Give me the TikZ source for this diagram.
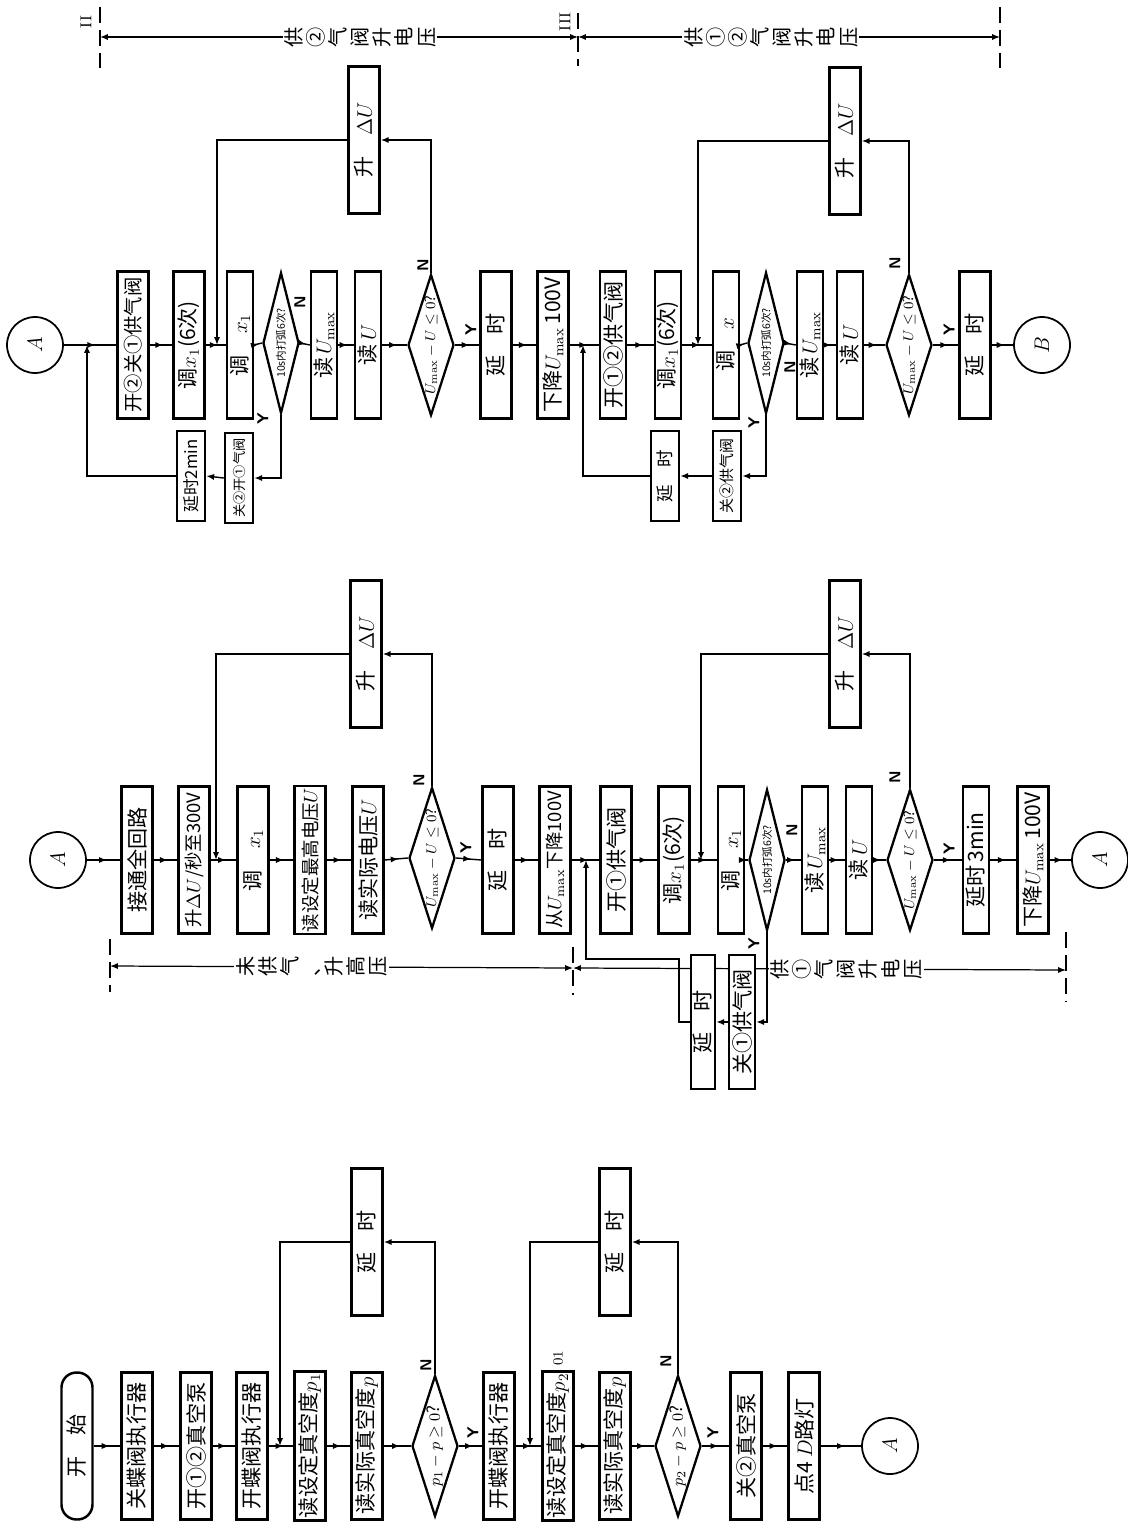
\documentclass[tikz,border=0pt]{standalone}
\usepackage{fontspec}
\newfontfamily\cjk{Noto Sans CJK SC}
\usetikzlibrary{shapes.geometric,arrows.meta,decorations.markings}

\begin{document}
\begin{tikzpicture}[x=0.02cm, y=-0.02cm, >={Latex[length=4.5pt,width=3.5pt]},
    box/.style={draw, fill=white, line width=1.4pt, rotate=90, minimum width=2.94cm,
        minimum height=0.62cm, inner sep=1pt, font=\cjk\fontsize{12}{13}\selectfont},
    slim/.style={minimum height=0.52cm},
    smallbox/.style={box, minimum width=1.8cm, minimum height=0.56cm},
    midbox/.style={box, minimum width=2.68cm},
    term/.style={box, rounded corners=0.3cm},
    test/.style={draw, fill=white, diamond, aspect=3, line width=1.3pt, rotate=90,
        inner sep=0pt, minimum width=2.82cm, minimum height=0.92cm,
        font=\cjk\fontsize{8}{9}\selectfont},
    narrow/.style={minimum height=0.72cm, font=\cjk\fontsize{6}{7}\selectfont},
    conn/.style={draw, circle, line width=1pt, minimum size=1.12cm, inner sep=0pt,
        rotate=90, font=\fontsize{12}{13}\selectfont},
    flow/.style={line width=0.8pt, postaction={decorate}, decoration={markings,
        mark=at position 0.6 with {\arrow{>}}}},
    back/.style={line width=0.8pt, ->},
    yesno/.style={rotate=90, inner sep=1pt, font=\sffamily\bfseries\fontsize{9}{9}\selectfont},
    stageline/.style={line width=0.7pt, <->},
    stagemark/.style={line width=0.7pt, dash pattern=on 9pt off 4pt},
    stagetext/.style={rotate=90, fill=white, align=center, inner sep=1pt,
        font=\cjk\fontsize{11.5}{12.6}\selectfont}]

    \useasboundingbox (0,0) rectangle (1128,1524);

    % stage brackets
    \coordinate (q1) at (100,37);
    \coordinate (q2) at (578,37);
    \coordinate (q3) at (1000,37);
    \coordinate (q4) at (110,966);
    \coordinate (q5) at (573,968);
    \coordinate (q6) at (1066,970);
    \draw[stagemark] (100,7) -- (100,72);
    \draw[stagemark] (578,13) -- (578,66);
    \draw[stagemark] (1000,7) -- (1000,68);
    \draw[stagemark] (110,939) -- (110,992);
    \draw[stagemark] (573,947) -- (573,995);
    \draw[stagemark] (1066,932) -- (1066,1002);
    \node[rotate=90, font=\fontsize{9}{9}\selectfont] (r2) at (86,22) {II};
    \node[rotate=90, font=\fontsize{9}{9}\selectfont] (r3) at (565,22) {III};
    \draw[stageline] (q1) -- (q2) node[stagetext, pos=0.544] (g1) {供\\②\\气\\阀\\升\\电\\压};
    \draw[stageline] (q2) -- (q3) node[stagetext, pos=0.457] (g2) {供\\①\\②\\气\\阀\\升\\电\\压};
    \draw[stageline] (q4) -- (q5) node[stagetext, pos=0.436] (g3) {未\\供\\气\\、\\升\\高\\压};
    \draw[stageline] (q5) -- (q6) node[stagetext, pos=0.554] (g4) {供\\①\\气\\阀\\升\\电\\压};

    % first column: pumping down
    \node[term] (start) at (77,1446) {开\quad 始};
    \node[box] (b1) at (137,1446) {关蝶阀执行器};
    \node[box] (b2) at (196,1446) {开①②真空泵};
    \node[box] (b3) at (252,1446) {开蝶阀执行器};
    \coordinate (j1) at (280,1446);
    \node[box] (b4) at (310,1446) {读设定真空度$p_1$};
    \node[box] (b5) at (367,1446) {读实际真空度$p$};
    \node[test, font=\cjk\fontsize{9.5}{10}\selectfont] (d1) at (435,1446) {$p_1-p\geq0$?};
    \node[box] (t1) at (367,1242) {延\quad 时};
    \node[box] (b6) at (499,1446) {开蝶阀执行器};
    \coordinate (j2) at (530,1446);
    \node[box] (b7) at (558,1446) {读设定真空度$p_2$};
    \node[rotate=90, font=\fontsize{8}{8}\selectfont] (note) at (558,1358) {01};
    \node[box] (b8) at (615,1446) {读实际真空度$p$};
    \node[test, font=\cjk\fontsize{9.5}{10}\selectfont] (d2) at (678,1446) {$p_2-p\geq0$?};
    \node[box] (t2) at (615,1242) {延\quad 时};
    \node[box] (b9) at (746,1446) {关②真空泵};
    \node[box] (b10) at (804,1446) {点4\,$D$路灯};
    \node[conn] (a1) at (890,1446) {$A$};

    \foreach \u/\v in {start/b1, b1/b2, b2/b3, b3/b4, b4/b5, b5/d1, d1/b6, b6/b7, b7/b8,
        b8/d2, d2/b9, b9/b10}
        \draw[flow] (\u.south) -- (\v.north);
    \draw[flow] (b10.south) -- (a1);
    \draw[back] (d1.east) |- (t1.south);
    \draw[back] (t1.north) -| (j1);
    \draw[back] (d2.east) |- (t2.south);
    \draw[back] (t2.north) -| (j2);
    \node[yesno] (dN1) at (426,1365) {N};
    \node[yesno] (dY1) at (473,1433) {Y};
    \node[yesno] (dN2) at (666,1361) {N};
    \node[yesno] (dY2) at (713,1433) {Y};

    % second column: high voltage without gas, then gas valve 1
    \node[conn] (a2) at (58,860) {$A$};
    \node[box] (m1) at (137,860) {接通全回路};
    \node[box, font=\cjk\fontsize{10.5}{12}\selectfont] (m2) at (194,860) {升$\Delta U$/秒至300V};
    \coordinate (j3) at (216,860);
    \node[box] (m3) at (253,860) {调\quad $x_1$};
    \node[box, font=\cjk\fontsize{10.5}{12}\selectfont] (m4) at (310,860) {读设定最高电压$U$};
    \node[box] (m5) at (368,860) {读实际电压$U$};
    \node[test] (md1) at (432,858) {$U_{\max}-U\leq0$?};
    \node[box] (u1) at (366,654) {升\quad $\Delta U$};
    \node[box] (m6) at (498,860) {延\quad 时};
    \node[box, font=\cjk\fontsize{10.5}{12}\selectfont] (m7) at (555,860) {从$U_{\max}$下降100V};
    \coordinate (j4) at (586,860);
    \node[box] (m8) at (616,860) {开①供气阀};
    \node[box] (m9) at (674,860) {调$x_1$(6次)};
    \coordinate (j5) at (701,860);
    \node[box, slim] (m10) at (731,860) {调\quad $x_1$};
    \node[test, narrow] (md2) at (767,860) {10s内打弧6次?};
    \node[box, slim] (m11) at (815,860) {读\,$U_{\max}$};
    \node[box, slim] (m12) at (859,860) {读\,$U$};
    \node[test] (md3) at (910,860) {$U_{\max}-U\leq0$?};
    \node[box] (u2) at (845,654) {升\quad $\Delta U$};
    \node[box, slim] (m13) at (976,860) {延时\,3min};
    \node[box] (m14) at (1033,860) {下降$U_{\max}$\,100V};
    \node[conn] (a3) at (1100,860) {$A$};
    \node[midbox, minimum height=0.48cm] (s1) at (703,1022) {延\quad 时};
    \node[midbox, slim] (s2) at (742,1022) {关①供气阀};
    \coordinate (k1) at (679,959);

    \draw[flow] (a2) -- (m1.north);
    \foreach \u/\v in {m1/m2, m2/m3, m3/m4, m4/m5, m5/md1, md1/m6, m6/m7, m7/m8, m8/m9,
        m9/m10, m10/md2, md2/m11, m11/m12, m12/md3, md3/m13, m13/m14}
        \draw[flow] (\u.south) -- (\v.north);
    \draw[flow] (m14.south) -- (a3);
    \draw[back] (md1.east) |- (u1.south);
    \draw[back] (u1.north) -| (j3);
    \draw[back] (md3.east) |- (u2.south);
    \draw[back] (u2.north) -| (j5);
    \draw[back] (md2.west) |- (s2.south);
    \draw[back] (s2.north) -- (s1.south);
    \draw[back] (s1.north) -| (k1) -| (j4);
    \node[yesno] (mN1) at (419,780) {N};
    \node[yesno] (mY1) at (466,848) {Y};
    \node[yesno] (mN2) at (792,830) {N};
    \node[yesno] (mY2) at (754,944) {Y};
    \node[yesno] (mN3) at (895,777) {N};
    \node[yesno] (mY3) at (949,849) {Y};

    % third column: gas valve 2, then valves 1 and 2
    \node[conn] (a4) at (35,345) {$A$};
    \coordinate (j9) at (87,345);
    \node[box, font=\cjk\fontsize{11}{12}\selectfont] (n1) at (133,345) {开②关①供气阀};
    \node[box] (n2) at (189,345) {调$x_1$(6次)};
    \coordinate (j6) at (217,345);
    \node[box, slim] (n3) at (240,345) {调\quad $x_1$};
    \node[test, narrow] (nd1) at (281,343) {10s内打弧6次?};
    \node[box, slim] (n4) at (324,345) {读\,$U_{\max}$};
    \node[box, slim] (n5) at (368,345) {读\,$U$};
    \node[test] (nd2) at (431,345) {$U_{\max}-U\leq0$?};
    \node[box] (u3) at (364,140) {升\quad $\Delta U$};
    \node[box] (n6) at (496,345) {延\quad 时};
    \node[box] (n7) at (553,345) {下降$U_{\max}$\,100V};
    \coordinate (j7) at (583,345);
    \node[box, slim] (n8) at (613,345) {开①②供气阀};
    \node[box, slim] (n9) at (668,345) {调$x_1$(6次)};
    \coordinate (j8) at (698,345);
    \node[box, slim] (n10) at (726,345) {调\quad $x$};
    \node[test, narrow] (nd3) at (766,343) {10s内打弧6次?};
    \node[box, slim] (n11) at (810,345) {读\,$U_{\max}$};
    \node[box, slim] (n12) at (850,345) {读\,$U$};
    \node[test] (nd4) at (909,345) {$U_{\max}-U\leq0$?};
    \node[box] (u4) at (845,141) {升\quad $\Delta U$};
    \node[box] (n13) at (975,345) {延\quad 时};
    \node[conn] (bb) at (1042,345) {$B$};
    \node[smallbox, font=\cjk\fontsize{9.5}{10}\selectfont] (s3) at (191,476) {延时2min};
    \node[smallbox, font=\cjk\fontsize{7.5}{8}\selectfont] (s4) at (239,478) {关②开①气阀};
    \node[smallbox, font=\cjk\fontsize{10}{11}\selectfont] (s5) at (665,476) {延\quad 时};
    \node[smallbox, font=\cjk\fontsize{8.5}{9}\selectfont] (s6) at (727,476) {关②供气阀};

    \draw[flow] (a4) -- (n1.north);
    \foreach \u/\v in {n1/n2, n2/n3, n3/nd1, nd1/n4, n4/n5, n5/nd2, nd2/n6, n6/n7, n7/n8,
        n8/n9, n9/n10, n10/nd3, nd3/n11, n11/n12, n12/nd4, nd4/n13}
        \draw[flow] (\u.south) -- (\v.north);
    \draw[flow] (n13.south) -- (bb);
    \draw[back] (nd1.west) |- (s4.south);
    \draw[back] (s4.north) -- (s3.south);
    \draw[back] (s3.north) -| (j9);
    \draw[back] (nd2.east) |- (u3.south);
    \draw[back] (u3.north) -| (j6);
    \draw[back] (nd3.west) |- (s6.south);
    \draw[back] (s6.north) -- (s5.south);
    \draw[back] (s5.north) -| (j7);
    \draw[back] (nd4.east) |- (u4.south);
    \draw[back] (u4.north) -| (j8);
    \node[yesno] (nN1) at (300,302) {N};
    \node[yesno] (nY1) at (263,419) {Y};
    \node[yesno] (nN2) at (423,265) {N};
    \node[yesno] (nY2) at (471,330) {Y};
    \node[yesno] (nN3) at (790,367) {N};
    \node[yesno] (nY3) at (754,423) {Y};
    \node[yesno] (nN4) at (895,263) {N};
    \node[yesno] (nY4) at (949,330) {Y};
\end{tikzpicture}
\end{document}
